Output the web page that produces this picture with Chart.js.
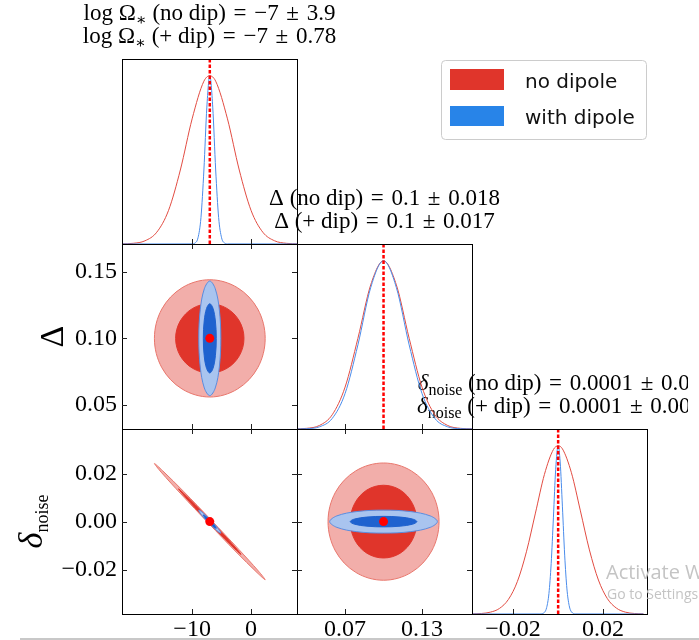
<!DOCTYPE html>
<html>
<head>
<meta charset="utf-8">
<script src="https://cdn.jsdelivr.net/npm/chart.js@4.4.1/dist/chart.umd.min.js"></script>
<style>
  body { margin: 0; background: #fff; }
  #wrap { position: relative; width: 699px; height: 640px; overflow: hidden; }
  #wrap canvas { position: absolute; left: 0; top: 0; }
</style>
</head>
<body>
<div id="wrap">
  <canvas id="pA" width="699" height="640"></canvas>
  <canvas id="pB" width="699" height="640"></canvas>
  <canvas id="pC" width="699" height="640"></canvas>
  <canvas id="dNoise" width="699" height="640"></canvas>
  <canvas id="dDelta" width="699" height="640"></canvas>
  <canvas id="dOmega" width="699" height="640"></canvas>
</div>
<script>
// true values and quoted errors
var omegaTrue = -7, deltaTrue = 0.1, noiseTrue = 0.0001;
var omegaErr = ['3.9', '0.78'], deltaErr = ['0.018', '0.017'], noiseErr = ['0.01', '0.002'];

// tick values
var omegaTicks = [-10, 0];
var deltaTicksX = [0.07, 0.13];
var deltaTicksY = [0.05, 0.10, 0.15];
var noiseTicksX = [-0.02, 0.02];
var noiseTicksY = [-0.02, 0, 0.02];

// 1D marginals (normalised to peak)
var omegaGrid = [-22, -20, -18, -16, -14, -12, -10, -8, -7, -6, -4, -2, 0, 2, 4, 6, 8];
var omegaNoDip = [0.0006, 0.004, 0.019, 0.07, 0.2, 0.44, 0.744, 0.968, 1, 0.968, 0.744, 0.44, 0.2, 0.07, 0.019, 0.004, 0.0006];
var omegaGridDip = [-22, -10, -9.5, -9, -8.5, -8, -7.5, -7, -6.5, -6, -5.5, -5, -4.5, -4, 8];
var omegaWithDip = [0, 0.0006, 0.006, 0.037, 0.157, 0.44, 0.814, 1, 0.814, 0.44, 0.157, 0.037, 0.006, 0.0006, 0];

var deltaGrid = [0.03, 0.04, 0.05, 0.06, 0.07, 0.08, 0.09, 0.10, 0.11, 0.12, 0.13, 0.14, 0.15, 0.16, 0.17];
var deltaNoDip = [0.0005, 0.0039, 0.021, 0.085, 0.249, 0.539, 0.857, 1, 0.857, 0.539, 0.249, 0.085, 0.021, 0.0039, 0.0005];
var deltaWithDip = [0.0002, 0.002, 0.013, 0.063, 0.211, 0.5, 0.841, 1, 0.841, 0.5, 0.211, 0.063, 0.013, 0.002, 0.0002];

var noiseGrid = [-0.038, -0.034, -0.03, -0.026, -0.022, -0.018, -0.014, -0.01, -0.006, -0.002, 0.0001, 0.002, 0.006, 0.01, 0.014, 0.018, 0.022, 0.026, 0.03, 0.034, 0.038];
var noiseNoDip = [0.0007, 0.003, 0.011, 0.033, 0.087, 0.194, 0.37, 0.6, 0.83, 0.978, 1, 0.982, 0.84, 0.613, 0.381, 0.202, 0.091, 0.035, 0.011, 0.003, 0.0008];
var noiseGridDip = [-0.038, -0.008, -0.006, -0.005, -0.004, -0.003, -0.002, -0.001, 0.0001, 0.001, 0.002, 0.003, 0.004, 0.005, 0.006, 0.008, 0.038];
var noiseWithDip = [0, 0.0003, 0.0096, 0.039, 0.122, 0.301, 0.576, 0.86, 1, 0.904, 0.637, 0.35, 0.149, 0.05, 0.013, 0.0004, 0];

// 2D contours (68% / 95%), closed [x, y] outlines
var omDelRed95 = [[2.4, 0.1], [1.14, 0.122], [-2.3, 0.138], [-7, 0.144], [-11.7, 0.138], [-15.14, 0.122], [-16.4, 0.1], [-15.14, 0.078], [-11.7, 0.062], [-7, 0.056], [-2.3, 0.062], [1.14, 0.078]];
var omDelRed68 = [[-1.2, 0.1], [-1.98, 0.113], [-4.1, 0.1225], [-7, 0.126], [-9.9, 0.1225], [-12.02, 0.113], [-12.8, 0.1], [-12.02, 0.087], [-9.9, 0.0775], [-7, 0.074], [-4.1, 0.0775], [-1.98, 0.087]];
var omDelBlue95 = [[-5.13, 0.1], [-5.38, 0.1215], [-6.07, 0.1372], [-7, 0.143], [-7.93, 0.1372], [-8.62, 0.1215], [-8.87, 0.1], [-8.62, 0.0785], [-7.93, 0.0628], [-7, 0.057], [-6.07, 0.0628], [-5.38, 0.0785]];
var omDelBlue68 = [[-5.9, 0.1], [-6.05, 0.113], [-6.45, 0.1225], [-7, 0.126], [-7.55, 0.1225], [-7.95, 0.113], [-8.1, 0.1], [-7.95, 0.087], [-7.55, 0.0775], [-7, 0.074], [-6.45, 0.0775], [-6.05, 0.087]];

var omNoiRed95 = [[2.4, -0.0242], [1.27, -0.0206], [-2.08, -0.0115], [-6.75, 0.0007], [-11.48, 0.0128], [-15.02, 0.0214], [-16.4, 0.0244], [-15.27, 0.0208], [-11.92, 0.0117], [-7.25, -0.0005], [-2.52, -0.0126], [1.02, -0.0212]];
var omNoiRed68 = [[-1.7, -0.0136], [-2.34, -0.0116], [-4.22, -0.0064], [-6.85, 0.0005], [-9.52, 0.0073], [-11.52, 0.0121], [-12.3, 0.0138], [-11.67, 0.0118], [-9.78, 0.0066], [-7.15, -0.0003], [-4.48, -0.0071], [-2.49, -0.0119]];
var omNoiBlue95 = [[-5.13, -0.0047], [-5.28, -0.0038], [-5.89, -0.0019], [-6.8, 0.0006], [-7.76, 0.0029], [-8.52, 0.0045], [-8.87, 0.0049], [-8.72, 0.004], [-8.11, 0.002], [-7.2, -0.0004], [-6.24, -0.0027], [-5.48, -0.0043]];
var omNoiBlue68 = [[-5.9, -0.0027], [-5.99, -0.0022], [-6.35, -0.001], [-6.88, 0.0004], [-7.45, 0.0018], [-7.89, 0.0027], [-8.1, 0.0029], [-8.01, 0.0024], [-7.65, 0.0012], [-7.12, -0.0002], [-6.55, -0.0016], [-6.11, -0.0025]];

var delNoiRed95 = [[0.1433, 0.0001], [0.1375, 0.0124], [0.1217, 0.0213], [0.1, 0.0246], [0.0783, 0.0213], [0.0625, 0.0124], [0.0567, 0.0001], [0.0625, -0.0122], [0.0783, -0.0211], [0.1, -0.0244], [0.1217, -0.0211], [0.1375, -0.0122]];
var delNoiRed68 = [[0.126, 0.0001], [0.1225, 0.0077], [0.113, 0.0133], [0.1, 0.0153], [0.087, 0.0133], [0.0775, 0.0077], [0.074, 0.0001], [0.0775, -0.0075], [0.087, -0.0131], [0.1, -0.0151], [0.113, -0.0131], [0.1225, -0.0075]];
var delNoiBlue95 = [[0.142, 0.0001], [0.1364, 0.0025], [0.121, 0.0043], [0.1, 0.0049], [0.079, 0.0043], [0.0636, 0.0025], [0.058, 0.0001], [0.0636, -0.0023], [0.079, -0.0041], [0.1, -0.0047], [0.121, -0.0041], [0.1364, -0.0023]];
var delNoiBlue68 = [[0.126, 0.0001], [0.1225, 0.0012], [0.113, 0.002], [0.1, 0.0023], [0.087, 0.002], [0.0775, 0.0012], [0.074, 0.0001], [0.0775, -0.001], [0.087, -0.0018], [0.1, -0.0021], [0.113, -0.0018], [0.1225, -0.001]];

var W = 699, H = 640;
var colX = [122, 297, 472], rowY = [59, 244, 429], panelW = 175, panelH = 185;
var yAxisW = 100, xAxisH = 26;

var red = '#e0352b', redLight = '#f2aeaa', redEdge = '#e8766c', redLine = '#e24c42';
var blue = '#1f62cf', blueLight = '#a9c4ef', blueEdge = '#5a8de0', blueLine = '#4a8ceb';

var serif = '"Liberation Serif", "DejaVu Serif", serif';
function tf(size, style) { return (style ? style + ' ' : '') + size + 'px ' + serif; }
var tickFont = { family: serif, size: 24, lineHeight: 1.2 };
var sp = '\u2004';

function num(v) { return (v < 0 ? '\u2212' : '') + Math.abs(v); }
function fmtInt(v) { return (v < 0 ? '\u2212' : '') + Math.abs(v); }
function fmt2(v) { return (v < 0 ? '\u2212' : '') + Math.abs(v).toFixed(2); }
function rhs(v, err) { return sp + '=' + sp + num(v) + sp + '\u00B1' + sp + err; }

var omegaTitle = [
  [['log \u03A9', tf(23)], ['\u2217', tf(16), 5], [' (no dip)' + rhs(omegaTrue, omegaErr[0]), tf(23)]],
  [['log \u03A9', tf(23)], ['\u2217', tf(16), 5], [' (+ dip)' + rhs(omegaTrue, omegaErr[1]), tf(23)]]
];
var deltaTitle = [
  [['\u0394 (no dip)' + rhs(deltaTrue, deltaErr[0]), tf(23)]],
  [['\u0394 (+ dip)' + rhs(deltaTrue, deltaErr[1]), tf(23)]]
];
var noiseTitle = [
  [['\u03B4', tf(23, 'italic')], ['noise', tf(16), 5], [' (no dip)' + rhs(noiseTrue, noiseErr[0]), tf(23)]],
  [['\u03B4', tf(23, 'italic')], ['noise', tf(16), 5], [' (+ dip)' + rhs(noiseTrue, noiseErr[1]), tf(23)]]
];

function drawRich(ctx, parts, x, y) {
  var w = 0;
  parts.forEach(function (p) { ctx.font = p[1]; w += ctx.measureText(p[0]).width; });
  var cx = x - w / 2;
  parts.forEach(function (p) {
    ctx.font = p[1];
    ctx.fillText(p[0], cx, y + (p[2] || 0));
    cx += ctx.measureText(p[0]).width;
  });
}

function pairs(xs, ys) {
  return xs.map(function (x, i) { return { x: x, y: ys[i] }; });
}

function curve(xs, ys, color) {
  return { data: pairs(xs, ys), showLine: true, borderColor: color, borderWidth: 1,
    pointRadius: 0, cubicInterpolationMode: 'monotone', fill: false };
}

function truthLine(v) {
  return { data: [{ x: v, y: 0 }, { x: v, y: 1.1 }], showLine: true, borderColor: '#ff0000',
    borderWidth: 2.5, borderDash: [3.5, 2], pointRadius: 0, tension: 0 };
}

function contour(pts, fillColor, edge) {
  return { data: pts, closed: true, showLine: true, fill: 'shape', backgroundColor: fillColor,
    borderColor: edge || fillColor, borderWidth: 1, pointRadius: 0, tension: 0.35 };
}

function truthDot(x, y) {
  return { data: [{ x: x, y: y }], showLine: false, pointRadius: 4.5,
    backgroundColor: '#ff0000', borderColor: '#ff0000', pointBorderWidth: 0 };
}

function axis(dir, lim, ticks, showLabels, fmt) {
  return {
    type: 'linear', min: lim[0], max: lim[1], bounds: 'data',
    grid: { display: false, drawTicks: false },
    border: { display: false },
    ticks: { display: showLabels, autoSkip: false, padding: dir === 'x' ? 1 : 5,
      color: '#000', font: tickFont, maxRotation: 0, callback: fmt },
    afterBuildTicks: function (s) { s.ticks = ticks.map(function (v) { return { value: v }; }); },
    afterFit: function (s) { if (dir === 'x') s.height = xAxisH; else s.width = yAxisW; }
  };
}

// contour outlines are closed loops, so join the last vertex smoothly back to the first
var closeContours = {
  id: 'closeContours',
  afterDatasetsUpdate: function (chart) {
    chart.data.datasets.forEach(function (ds, i) {
      var line = chart.getDatasetMeta(i).dataset;
      if (ds.closed && line) {
        line._loop = true;
        line._fullLoop = true;
        line._segments = undefined;
        line._path = undefined;
        line._pointsUpdated = false;
      }
    });
  }
};

function decor(spec) {
  return {
    id: 'decor',
    afterDatasetsDraw: function (chart) {
      var a = chart.chartArea, ctx = chart.ctx;
      ctx.save();
      ctx.strokeStyle = '#000';
      ctx.lineWidth = 1;
      ctx.strokeRect(a.left + 0.5, a.top + 0.5, a.right - a.left, a.bottom - a.top);
      ctx.strokeStyle = '#222';
      spec.sides.forEach(function (side) {
        var sc = (side === 'top' || side === 'bottom') ? chart.scales.x : chart.scales.y;
        sc.ticks.forEach(function (t) {
          var p = Math.round(sc.getPixelForValue(t.value)) + 0.5;
          ctx.beginPath();
          if (side === 'bottom') { ctx.moveTo(p, a.bottom); ctx.lineTo(p, a.bottom - 5); }
          if (side === 'top') { ctx.moveTo(p, a.top); ctx.lineTo(p, a.top + 5); }
          if (side === 'left') { ctx.moveTo(a.left, p); ctx.lineTo(a.left + 5, p); }
          if (side === 'right') { ctx.moveTo(a.right, p); ctx.lineTo(a.right - 5, p); }
          ctx.stroke();
        });
      });
      ctx.restore();
    },
    afterDraw: function (chart) {
      var a = chart.chartArea, ctx = chart.ctx;
      ctx.save();
      ctx.fillStyle = '#000';
      ctx.textBaseline = 'alphabetic';
      if (spec.title) {
        ctx.save();
        if (spec.clipRight) { ctx.beginPath(); ctx.rect(0, 0, spec.clipRight, H); ctx.clip(); }
        var cx = (a.left + a.right) / 2;
        drawRich(ctx, spec.title[0], cx, a.top - 39);
        drawRich(ctx, spec.title[1], cx, a.top - 16);
        ctx.restore();
      }
      if (spec.yTitle) {
        ctx.save();
        ctx.translate(a.left - spec.yTitle.gap, (a.top + a.bottom) / 2);
        ctx.rotate(-Math.PI / 2);
        drawRich(ctx, spec.yTitle.parts, 0, 0);
        ctx.restore();
      }
      if (spec.extra) spec.extra(ctx);
      ctx.restore();
    }
  };
}

function panel(id, col, row, xAxis, yAxis, datasets, spec) {
  var left = colX[col], top = rowY[row];
  return new Chart(document.getElementById(id), {
    type: 'scatter',
    data: { datasets: datasets },
    options: {
      responsive: false, animation: false, devicePixelRatio: 1,
      layout: { padding: { left: left - yAxisW, top: top, right: W - left - panelW,
        bottom: H - top - panelH - xAxisH } },
      plugins: { legend: { display: false }, tooltip: { enabled: false } },
      scales: { x: xAxis, y: yAxis }
    },
    plugins: [closeContours, decor(spec)]
  });
}

function legendAndNotes(ctx) {
  ctx.save();
  ctx.fillStyle = '#fff';
  ctx.strokeStyle = '#cccccc';
  ctx.lineWidth = 1;
  ctx.beginPath();
  ctx.roundRect(441.5, 60.5, 205, 79, 4);
  ctx.fill();
  ctx.stroke();
  ctx.fillStyle = red;
  ctx.fillRect(450, 69, 54, 21);
  ctx.fillStyle = '#2884e8';
  ctx.fillRect(450, 106, 54, 20);
  ctx.fillStyle = '#111';
  ctx.font = '20px "DejaVu Sans", sans-serif';
  ctx.fillText('no dipole', 525, 88);
  ctx.fillText('with dipole', 525, 124);

  ctx.fillStyle = '#c4c4c4';
  ctx.font = '20px "Open Sans", sans-serif';
  ctx.fillText('Activate Windows', 606, 579);
  ctx.font = '14px "Open Sans", sans-serif';
  ctx.fillText('Go to Settings to activate Windows.', 607, 599);
  ctx.fillStyle = '#c8c8c8';
  ctx.fillRect(20, 638, 679, 2);
  ctx.restore();
}

var omegaLim = [-21.9, 7.8], deltaLimX = [0.0325, 0.169], deltaLimY = [0.032, 0.1708];
var noiseLimX = [-0.0382, 0.0396], noiseLimY = [-0.0385, 0.0388], densLim = [0, 1.1];
var allSides = ['bottom', 'top', 'left', 'right'];

// log Omega vs Delta
panel('pA', 0, 1,
  axis('x', omegaLim, omegaTicks, false, fmtInt),
  axis('y', deltaLimY, deltaTicksY, true, fmt2),
  [truthDot(omegaTrue, deltaTrue),
   contour(omDelBlue68, blue), contour(omDelBlue95, blueLight, blueEdge),
   contour(omDelRed68, red), contour(omDelRed95, redLight, redEdge)],
  { sides: allSides, yTitle: { gap: 59, parts: [['\u0394', tf(34)]] } });

// log Omega vs delta_noise
panel('pB', 0, 2,
  axis('x', omegaLim, omegaTicks, true, fmtInt),
  axis('y', noiseLimY, noiseTicksY, true, fmt2),
  [truthDot(omegaTrue, noiseTrue),
   contour(omNoiBlue68, blue), contour(omNoiBlue95, blueLight, blueEdge),
   contour(omNoiRed68, red), contour(omNoiRed95, redLight, redEdge)],
  { sides: allSides, yTitle: { gap: 80, parts: [['\u03B4', tf(34, 'italic')], ['noise', tf(18), 6]] } });

// Delta vs delta_noise
panel('pC', 1, 2,
  axis('x', deltaLimX, deltaTicksX, true, fmt2),
  axis('y', noiseLimY, noiseTicksY, false, fmt2),
  [truthDot(deltaTrue, noiseTrue),
   contour(delNoiBlue68, blue), contour(delNoiBlue95, blueLight, blueEdge),
   contour(delNoiRed68, red), contour(delNoiRed95, redLight, redEdge)],
  { sides: allSides });

// marginals on the diagonal
panel('dNoise', 2, 2,
  axis('x', noiseLimX, noiseTicksX, true, fmt2),
  axis('y', densLim, [], false, fmt2),
  [truthLine(noiseTrue), curve(noiseGridDip, noiseWithDip, blueLine), curve(noiseGrid, noiseNoDip, redLine)],
  { sides: ['bottom'], title: noiseTitle, clipRight: 688 });

panel('dDelta', 1, 1,
  axis('x', deltaLimX, deltaTicksX, false, fmt2),
  axis('y', densLim, [], false, fmt2),
  [truthLine(deltaTrue), curve(deltaGrid, deltaWithDip, blueLine), curve(deltaGrid, deltaNoDip, redLine)],
  { sides: ['bottom'], title: deltaTitle });

panel('dOmega', 0, 0,
  axis('x', omegaLim, omegaTicks, false, fmtInt),
  axis('y', densLim, [], false, fmt2),
  [truthLine(omegaTrue), curve(omegaGridDip, omegaWithDip, blueLine), curve(omegaGrid, omegaNoDip, redLine)],
  { sides: ['bottom'], title: omegaTitle, extra: legendAndNotes });
</script>
</body>
</html>
